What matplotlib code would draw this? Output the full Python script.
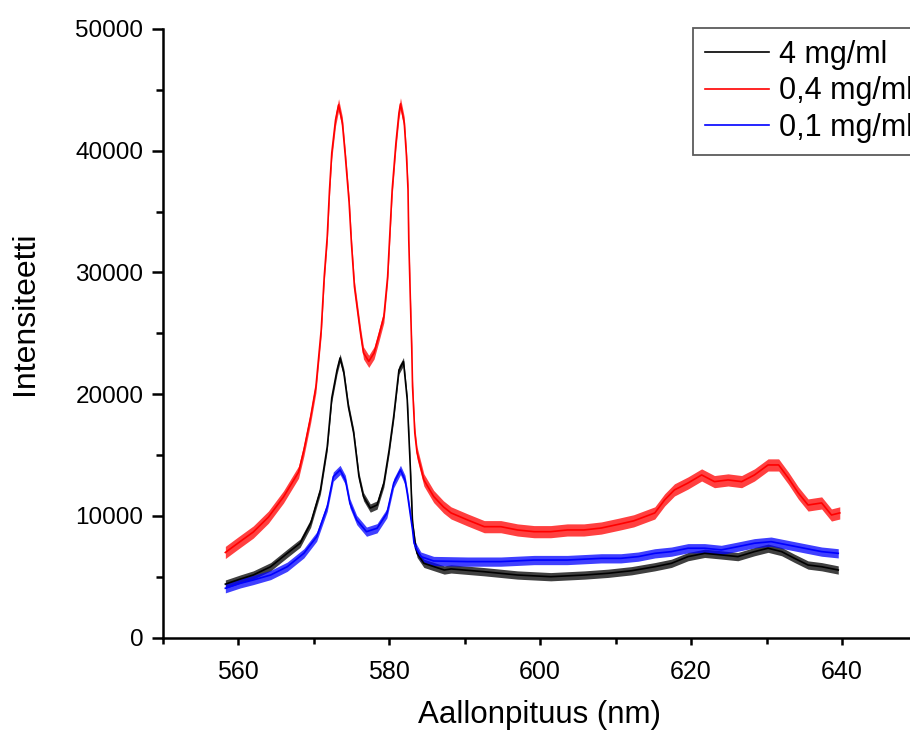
import matplotlib
matplotlib.use("Agg")
import matplotlib.pyplot as plt
import numpy as np

# Emission spectra at three concentrations (wavelength in nm, intensity in counts)
labels = ["4 mg/ml", "0,4 mg/ml", "0,1 mg/ml"]
colors = ["#000000", "#ff0000", "#0000ff"]

wl_4 = [558.3, 560.3, 562.0, 564.3, 566.5, 568.2, 569.6, 570.9, 571.8, 572.4,
        573.1, 573.5, 574.0, 574.6, 575.3, 576.0, 576.6, 577.5, 578.4, 579.3,
        580.0, 580.6, 581.3, 581.9, 582.4, 582.8, 583.1, 583.5, 583.7, 584.6,
        587.3, 588.2, 592.6, 597.0, 601.4, 605.9, 609.0, 612.1, 615.2, 617.4,
        619.6, 621.8, 624.0, 626.2, 628.4, 630.2, 632.0, 633.7, 635.5, 637.3,
        639.5]
int_4 = [4400, 4820, 5150, 5830, 6930, 7760, 9400, 12140, 15690, 19700,
         22000, 22980, 21750, 18980, 16820, 13230, 11590, 10650, 10900, 12710,
         15420, 18160, 22000, 22680, 19530, 14050, 9400, 7480, 6930, 6110,
         5560, 5650, 5420, 5150, 5010, 5150, 5290, 5500, 5830, 6110,
         6660, 6930, 6800, 6660, 7070, 7350, 7070, 6520, 5970, 5830,
         5560]

wl_04 = [558.3, 560.0, 562.0, 564.0, 566.0, 568.0, 568.7, 569.6, 570.3, 571.0,
         571.4, 571.8, 572.1, 572.4, 572.9, 573.3, 573.8, 574.2, 574.7, 575.0,
         575.4, 575.8, 576.2, 576.6, 577.3, 578.0, 578.6, 579.3, 579.8, 580.1,
         580.4, 580.9, 581.3, 581.5, 582.0, 582.3, 582.5, 582.6, 582.8, 583.0,
         583.1, 583.4, 583.7, 584.6, 585.9, 587.2, 588.2, 590.4, 592.6, 594.8,
         597.0, 599.2, 601.4, 603.6, 605.8, 608.1, 610.5, 612.4, 615.2, 616.5,
         617.8, 619.6, 621.4, 623.1, 624.9, 626.7, 628.4, 630.2, 631.6, 632.9,
         634.2, 635.5, 637.3, 638.6, 639.7]
int_04 = [7000, 7780, 8680, 9900, 11560, 13600, 15400, 18140, 20630, 25280,
          29660, 32950, 36790, 39830, 42540, 43770, 42290, 39520, 35720, 32430,
          28840, 26930, 25040, 23390, 22700, 23390, 24730, 26380, 29660, 33250,
          36790, 40650, 43110, 43850, 42290, 39520, 36790, 32680, 28020, 23640,
          20630, 16820, 15170, 12960, 11600, 10740, 10250, 9670, 9120, 9120,
          8850, 8710, 8710, 8850, 8850, 9010, 9330, 9600, 10250, 11320,
          12140, 12710, 13370, 12820, 12960, 12820, 13370, 14190, 14190, 13100,
          11890, 10900, 11070, 10080, 10250]

wl_01 = [558.3, 560.3, 562.0, 564.3, 566.5, 568.7, 570.4, 571.8, 572.6, 573.5,
         574.2, 574.8, 575.7, 577.0, 578.4, 579.7, 580.6, 581.5, 582.1, 582.4,
         583.1, 583.3, 583.7, 584.2, 585.9, 590.4, 594.8, 599.2, 603.6, 608.1,
         610.7, 613.0, 615.2, 617.4, 619.6, 621.8, 624.0, 626.2, 628.4, 630.6,
         632.8, 635.0, 637.3, 639.5]
int_01 = [4060, 4470, 4740, 5150, 5830, 6930, 8300, 10760, 13230, 13780,
          12960, 11040, 9670, 8710, 8990, 10220, 12690, 13780, 12960, 11870,
          8850, 7760, 7210, 6660, 6300, 6250, 6250, 6380, 6380, 6520,
          6520, 6660, 6930, 7070, 7350, 7350, 7210, 7480, 7760, 7890,
          7620, 7350, 7070, 6930]

# half-width of the shot-noise scatter around each trace
noise_halfwidth = [340, 500, 380]

x_ticks = [560, 580, 600, 620, 640]
x_minor = [550, 570, 590, 610, 630, 650]
y_ticks = [0, 10000, 20000, 30000, 40000, 50000]
y_minor = [5000, 15000, 25000, 35000, 45000]

plt.rcParams["font.family"] = ["Liberation Sans", "DejaVu Sans"]

fig = plt.figure(figsize=(9.10, 7.31), dpi=100)
ax = fig.add_axes([162.7 / 910, 93.3 / 731, 830.3 / 910, 608.7 / 731])

series = [(wl_4, int_4), (wl_04, int_04), (wl_01, int_01)]
for (wl, inten), lab, col, hw in zip(series, labels, colors, noise_halfwidth):
    wl = np.asarray(wl)
    inten = np.asarray(inten)
    ax.fill_between(wl, inten - hw, inten + hw, color=col, alpha=0.75,
                    linewidth=0)
    ax.plot(wl, inten, color=col, linewidth=1.2, label=lab)

ax.set_xlim(550, 660)
ax.set_ylim(0, 50000)
ax.set_xticks(x_ticks)
ax.set_xticks(x_minor, minor=True)
ax.set_yticks(y_ticks)
ax.set_yticks(y_minor, minor=True)
ax.set_yticklabels([str(v) for v in y_ticks])

for side in ("top", "right"):
    ax.spines[side].set_visible(False)
for side in ("left", "bottom"):
    ax.spines[side].set_linewidth(1.8)

ax.tick_params(axis="y", which="major", direction="out", length=8, width=1.8,
               pad=6, labelsize=17.5)
ax.tick_params(axis="y", which="minor", direction="out", length=5, width=1.8)
ax.tick_params(axis="x", which="major", direction="out", length=5, width=1.8,
               pad=11, labelsize=18)
ax.tick_params(axis="x", which="minor", direction="out", length=4, width=1.8)

ax.set_xlabel("Aallonpituus (nm)", fontsize=22.5, va="center")
ax.set_ylabel("Intensiteetti", fontsize=23, va="center")
ax.xaxis.set_label_coords((540 - 162.7) / 830.3, (637.7 - 715) / 608.7)
ax.yaxis.set_label_coords((25 - 162.7) / 830.3, (637.7 - 313) / 608.7)

leg = ax.legend(loc="upper left", bbox_to_anchor=(693 / 910, 1 - 28 / 731),
                bbox_transform=fig.transFigure, fontsize=22, frameon=True,
                fancybox=False, edgecolor="#333333", handlelength=2.1,
                handletextpad=0.33, borderpad=0.38, borderaxespad=0,
                labelspacing=0.22)
leg.get_frame().set_linewidth(1.3)
for line in leg.get_lines():
    line.set_linewidth(1.2)

fig.savefig("out.png", dpi=100)
